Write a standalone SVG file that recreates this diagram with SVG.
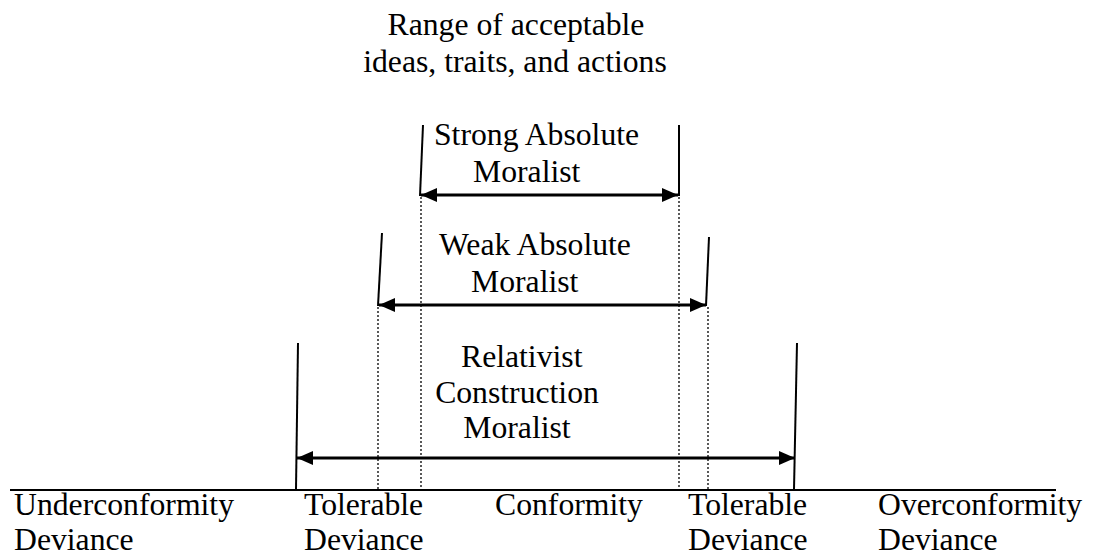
<svg xmlns="http://www.w3.org/2000/svg" width="1094" height="559" viewBox="0 0 1094 559">
  <style>
    .t { font-family: 'Liberation Serif', 'DejaVu Serif', serif; font-size: 31.7px; fill: #000; }
    .mid { text-anchor: middle; }
    .bound { stroke: #000; stroke-width: 2; fill: none; }
    .dot { stroke: #000; stroke-width: 1.3; stroke-dasharray: 2 2; fill: none; }
    .arrow { stroke: #000; stroke-width: 3; fill: none; marker-start: url(#ah); marker-end: url(#ah); }
    .axis { stroke: #000; stroke-width: 2; }
  </style>
  <defs>
    <marker id="ah" markerUnits="userSpaceOnUse" markerWidth="18" markerHeight="16" refX="16" refY="8" orient="auto-start-reverse">
      <path d="M0,1 L16,8 L0,15 z" fill="#000"/>
    </marker>
  </defs>
  <rect width="1094" height="559" fill="#fff"/>

  <g id="title" class="t">
    <text class="mid" x="516" y="35">Range of acceptable</text>
    <text class="mid" x="515" y="72">ideas, traits, and actions</text>
  </g>

  <g id="connectors">
    <line class="dot" x1="421" y1="197" x2="421" y2="490"/>
    <line class="dot" x1="679" y1="197" x2="679" y2="490"/>
    <line class="dot" x1="378" y1="307" x2="378" y2="490"/>
    <line class="dot" x1="708" y1="307" x2="708" y2="490"/>
    <line class="arrow" x1="421" y1="195" x2="678" y2="195"/>
    <line class="arrow" x1="379" y1="305" x2="706" y2="305"/>
    <line class="arrow" x1="297" y1="458" x2="795" y2="458"/>
    <line class="axis" x1="10" y1="490" x2="1056" y2="490"/>
  </g>

  <g id="strong-absolute" class="t">
    <line class="bound" x1="423" y1="125" x2="420" y2="196"/>
    <line class="bound" x1="679" y1="125" x2="679" y2="196"/>
    <text x="434" y="145">Strong Absolute</text>
    <text x="473" y="182">Moralist</text>
  </g>

  <g id="weak-absolute" class="t">
    <line class="bound" x1="382" y1="233" x2="378" y2="306"/>
    <line class="bound" x1="709" y1="237" x2="706" y2="306"/>
    <text x="439" y="255">Weak Absolute</text>
    <text x="471" y="292">Moralist</text>
  </g>

  <g id="relativist" class="t">
    <line class="bound" x1="298" y1="343" x2="296" y2="489"/>
    <line class="bound" x1="797" y1="343" x2="794" y2="489"/>
    <text x="461" y="367">Relativist</text>
    <text class="mid" x="517" y="403">Construction</text>
    <text class="mid" x="517" y="438">Moralist</text>
  </g>

  <g id="underconformity" class="t">
    <text x="14" y="515">Underconformity</text>
    <text x="14" y="550">Deviance</text>
  </g>
  <g id="tolerable-left" class="t">
    <text x="304" y="515">Tolerable</text>
    <text x="304" y="550">Deviance</text>
  </g>
  <g id="conformity" class="t">
    <text x="495" y="515">Conformity</text>
  </g>
  <g id="tolerable-right" class="t">
    <text x="688" y="515">Tolerable</text>
    <text x="688" y="550">Deviance</text>
  </g>
  <g id="overconformity" class="t">
    <text x="878" y="515">Overconformity</text>
    <text x="878" y="550">Deviance</text>
  </g>
</svg>
